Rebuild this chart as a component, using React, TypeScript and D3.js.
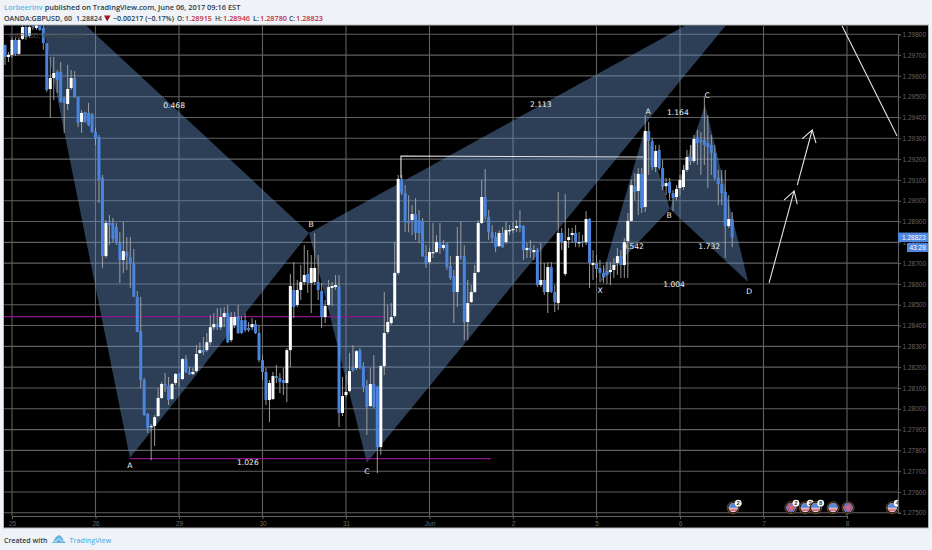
import React, { useEffect, useRef } from "react"
import * as d3 from "d3"

// candle values are fifth-decimal points above 1.20000, hourly bars
const opens = [
  9749,9691,9701,9773,9706,9778,9835,9792,9859,9830,
  9859,9830,9758,9537,9590,9619,9619,9494,9465,9542,
  9590,9499,9379,9427,9422,9417,9330,9307,9110,8734,
  8893,8893,8874,8797,8715,8753,8729,8696,8538,8374,
  8138,7975,7912,7917,7965,8052,8119,8110,8047,8124,
  8172,8143,8239,8177,8167,8181,8268,8282,8282,8320,
  8392,8407,8392,8441,8460,8330,8402,8446,8426,8426,
  8388,8392,8407,8364,8234,8177,8042,8047,8157,8148,
  8138,8124,8282,8571,8499,8571,8609,8648,8605,8609,
  8609,8566,8441,8499,8581,8585,8590,7980,8066,8085,
  8196,8196,8282,8205,8110,8013,8119,8105,7816,8205,
  8369,8412,8446,8653,9105,9037,8903,8907,8936,8907,
  8903,8734,8705,8749,8753,8801,8773,8792,8686,8638,
  8561,8734,8734,8417,8513,8561,8657,8893,9018,8922,
  8849,8825,8782,8845,8801,8854,8859,8869,8883,8878,
  8763,8773,8753,8763,8595,8619,8561,8681,8561,8508,
  8845,8648,8811,8835,8845,8797,8806,8801,8912,8691,
  8701,8677,8653,8662,8657,8667,8701,8734,8691,8806,
  8903,9070,9047,9129,8970,9335,9287,9162,9244,9157,
  9070,9090,9037,9018,9061,9066,9148,9210,9191,9306,
  9292,9292,9278,9268,9229,9110,9080,9042,8878,8912,
]
const highs = [
  9749,9715,9783,9783,9783,9850,9859,9869,9893,9893,
  9888,9869,9758,9691,9691,9628,9667,9499,9653,9628,
  9623,9499,9436,9427,9470,9422,9350,9316,9124,8907,
  8931,8917,8893,8850,8898,8825,8825,8768,8566,8538,
  8148,7980,7927,7970,8100,8129,8172,8153,8124,8172,
  8172,8244,8258,8201,8196,8306,8320,8345,8364,8450,
  8460,8484,8484,8489,8499,8465,8465,8499,8446,8460,
  8417,8436,8426,8402,8258,8196,8138,8177,8210,8172,
  8196,8292,8648,8705,8619,8691,8787,8763,8739,8845,
  8739,8605,8523,8619,8609,8643,8643,8153,8162,8268,
  8306,8282,8292,8224,8138,8196,8258,8110,8210,8561,
  8499,8508,8801,9124,9124,9075,9027,8979,9013,8955,
  8917,8787,8773,8893,8835,8893,8811,8801,8734,8667,
  8874,8898,8787,8619,8595,8691,8907,9100,9153,8955,
  8883,8849,8859,8874,8898,8883,8898,8907,8955,8883,
  8797,8811,8787,8773,8797,8701,8705,8705,8595,9042,
  8869,9032,8869,8869,8883,8850,8835,8950,8917,8763,
  8739,8715,8691,8705,8705,8725,8773,8763,8821,8941,
  9100,9133,9157,9157,9412,9379,9302,9268,9268,9196,
  9109,9109,9051,9075,9124,9172,9244,9268,9316,9340,
  9330,9499,9412,9316,9268,9148,9148,9148,9027,8946,
]
const lows = [
  9653,9667,9686,9696,9701,9773,9773,9783,9821,9821,
  9816,9725,9523,9398,9484,9518,9470,9326,9436,9532,
  9494,9354,9326,9374,9359,9326,9268,8989,8677,8725,
  8787,8801,8787,8605,8653,8667,8581,8538,8369,8100,
  7965,7883,7753,7821,7960,8047,8081,8018,8042,8114,
  8105,8138,8172,8162,8162,8177,8263,8258,8273,8306,
  8378,8378,8378,8392,8316,8320,8388,8359,8359,8369,
  8369,8378,8359,8224,8138,8018,7936,8042,8124,8076,
  8066,8032,8201,8436,8489,8523,8595,8557,8460,8595,
  8523,8388,8412,8494,8494,8571,7912,7965,8056,8081,
  8177,8186,8191,8081,7874,8009,8004,7691,7778,8162,
  8359,8402,8436,8643,9027,8849,8849,8835,8811,8797,
  8729,8677,8691,8725,8749,8744,8763,8667,8619,8412,
  8489,8715,8330,8330,8508,8557,8653,8888,8907,8811,
  8797,8753,8777,8773,8792,8835,8845,8849,8849,8715,
  8725,8725,8715,8585,8585,8547,8460,8557,8465,8475,
  8763,8638,8773,8797,8777,8777,8777,8787,8581,8619,
  8629,8609,8605,8600,8595,8629,8643,8629,8629,8629,
  8898,9003,8931,8941,8946,9124,9148,9138,9148,9051,
  9027,9003,8950,9003,9027,9051,9138,9172,9181,9172,
  9124,9172,9061,9124,9100,8979,8979,8725,8869,8777,
]
const closes = [
  9691,9701,9773,9706,9773,9835,9787,9835,9835,9869,
  9821,9758,9532,9590,9614,9580,9475,9470,9537,9590,
  9499,9374,9422,9379,9364,9330,9302,9100,8734,8893,
  8883,8816,8797,8715,8758,8729,8696,8538,8369,8138,
  7970,7907,7917,7960,8052,8119,8110,8042,8119,8167,
  8143,8239,8177,8167,8177,8263,8282,8273,8320,8392,
  8407,8392,8441,8460,8320,8441,8441,8364,8364,8378,
  8378,8407,8364,8234,8177,8042,8124,8157,8148,8129,
  8124,8282,8590,8489,8571,8609,8643,8605,8677,8677,
  8571,8441,8494,8585,8590,8595,7980,8061,8081,8181,
  8186,8277,8201,8105,8009,8119,8009,7816,8205,8364,
  8417,8441,8653,9105,9037,8898,8893,8936,8845,8845,
  8734,8701,8753,8753,8801,8773,8787,8681,8629,8561,
  8734,8729,8417,8508,8561,8653,8893,9018,8922,8849,
  8821,8777,8845,8777,8859,8859,8864,8878,8869,8763,
  8773,8763,8763,8595,8619,8561,8681,8561,8513,8845,
  8801,8806,8825,8845,8797,8801,8797,8912,8701,8701,
  8672,8653,8633,8643,8667,8691,8734,8691,8801,8903,
  9075,9042,9129,8965,9335,9287,9162,9239,9157,9066,
  9085,9037,9013,9056,9100,9148,9210,9191,9297,9277,
  9282,9268,9258,9229,9110,9080,9037,8878,8912,8823,
]

const priceTicks = [
  1.298,1.297,1.296,1.295,1.294,1.293,1.292,1.291,1.29,1.289,1.288,1.287,
  1.286,1.285,1.284,1.283,1.282,1.281,1.28,1.279,1.278,1.277,1.276,1.275,
]
const dayIndex = [2, 26, 50, 74, 98, 122, 146, 170, 194, 218, 242]
const dayLabels = ["25", "26", "29", "30", "31", "Jun", "2", "5", "6", "7", "8"]

// harmonic pattern triangles, [bar index, points above 1.2]
const triangles = [
  [[8, 10080], [35.9, 7763], [87.4, 8845]],
  [[87.4, 8845], [104, 7742], [216.7, 10037]],
  [[171, 8605], [184, 9350], [191.1, 8960]],
  [[191.1, 8960], [201.2, 9460], [213.6, 8609]],
]
const purpleLines = [
  [[-1, 8443], [109.2, 8443]],
  [[35.9, 7760], [139.7, 7760]],
]
const whitePaths = [
  [[113.8, 9109], [113.8, 9215], [183.4, 9210]],
  [[219.6, 8605], [226.8, 9047]],
  [[223.9, 9003], [226.8, 9047], [227.7, 8984]],
  [[227.7, 9075], [232, 9340]],
  [[229.1, 9297], [232, 9340], [233.1, 9277]],
  [[240.6, 9840], [256.4, 9311]],
]
const notes: [string, number, number][] = [
  ["0.468", 48.6, 9455],
  ["2.113", 154, 9460],
  ["1.164", 193.4, 9422],
  ["A", 184.8, 9427],
  ["C", 201.8, 9503],
  ["B", 88, 8883],
  ["B", 190.9, 8926],
  ["X", 171, 8566],
  ["D", 213.9, 8561],
  ["A", 35.9, 7724],
  ["C", 104, 7696],
  ["1.026", 69.8, 7739],
  ["0.542", 180.5, 8777],
  ["1.732", 202.4, 8777],
  ["1.004", 192.3, 8595],
]
// economic calendar markers on the time axis
const events: [number, string, string][] = [
  [209.3, "us", "2"],
  [225.9, "uk", "2"],
  [230, "us", "2"],
  [233, "us", "8"],
  [238, "us", ""],
  [242.3, "uk", ""],
  [255, "us", "4"],
]

const sans = "'Open Sans', sans-serif"
const axisFont = "'Liberation Sans', sans-serif"
const chartFont = "'DejaVu Sans', sans-serif"

export default function App() {
  const ref = useRef<SVGSVGElement>(null)

  useEffect(() => {
    document.body.style.margin = "0"
    const svg = d3.select(ref.current)
    svg.selectAll("*").remove()

    const x = d3.scaleLinear().domain([2, 242]).range([12, 847])
    const y = d3.scaleLinear().domain([1.275, 1.298]).range([512.8, 34.3])
    const yp = (p: number) => y(1.2 + p / 100000)

    svg.append("rect").attr("width", 932).attr("height", 550).attr("fill", "#eff3f7")
    svg.append("rect").attr("x", 3.5).attr("y", 25).attr("width", 925).attr("height", 503)
      .attr("fill", "#000").attr("stroke", "#b5b8bb")

    svg.append("clipPath").attr("id", "pane").append("rect")
      .attr("x", 4).attr("y", 25.5).attr("width", 894).attr("height", 490.5)
    const pane = svg.append("g").attr("clip-path", "url(#pane)")

    // grid
    pane.append("g").selectAll("line").data(priceTicks).join("line")
      .attr("x1", 4).attr("x2", 898).attr("y1", (d) => y(d)).attr("y2", (d) => y(d))
      .attr("stroke", "#616161").attr("stroke-width", 1.1)
    pane.append("g").selectAll("line").data(dayIndex).join("line")
      .attr("y1", 25).attr("y2", 516).attr("x1", (d) => x(d)).attr("x2", (d) => x(d))
      .attr("stroke", "#616161").attr("stroke-width", 1.1)

    // pattern fills
    const poly = d3.line<number[]>().x((d) => x(d[0])).y((d) => yp(d[1]))
    pane.append("g").selectAll("path").data(triangles).join("path")
      .attr("d", (d) => poly(d) + "Z")
      .attr("fill", "#6a95d0").attr("fill-opacity", 0.42)

    pane.append("g").selectAll("path").data(purpleLines).join("path")
      .attr("d", (d) => poly(d)).attr("fill", "none")
      .attr("stroke", "#8c168c").attr("stroke-width", 1.2)

    pane.append("g").selectAll("text").data(notes).join("text")
      .text((d) => d[0])
      .attr("x", (d) => x(d[1])).attr("y", (d) => yp(d[2]))
      .attr("text-anchor", "middle").attr("dominant-baseline", "middle")
      .attr("font-family", chartFont).attr("font-size", 7.6).attr("fill", "#f2f2f2")

    // candles
    const bars = d3.range(opens.length)
    const candles = pane.append("g")
    candles.selectAll("line").data(bars).join("line")
      .attr("x1", (i) => x(i)).attr("x2", (i) => x(i))
      .attr("y1", (i) => yp(highs[i])).attr("y2", (i) => yp(lows[i]))
      .attr("stroke", "#a9a9a9").attr("stroke-width", 0.9)
    candles.selectAll("rect").data(bars).join("rect")
      .attr("x", (i) => x(i) - 1.5).attr("width", 3)
      .attr("y", (i) => Math.min(yp(opens[i]), yp(closes[i])))
      .attr("height", (i) => Math.max(1.2, Math.abs(yp(opens[i]) - yp(closes[i]))))
      .attr("fill", (i) => (closes[i] >= opens[i] ? "#ffffff" : "#4a84dc"))

    pane.append("g").selectAll("path").data(whitePaths).join("path")
      .attr("d", (d) => poly(d)).attr("fill", "none")
      .attr("stroke", "#e4e4e4").attr("stroke-width", 1.1)

    // calendar markers
    const marks = pane.append("g").selectAll("g").data(events).join("g")
      .attr("transform", (d) => `translate(${x(d[0])},507.7)`)
    marks.append("circle").attr("r", 6).attr("fill", "#111").attr("stroke", "#8a5a22").attr("stroke-width", 0.8)
    marks.append("circle").attr("r", 4.6).attr("fill", "#e4e4ee")
    marks.filter((d) => d[1] === "us").append("path")
      .attr("d", d3.arc()({ innerRadius: 0, outerRadius: 4.6, startAngle: -Math.PI / 2, endAngle: Math.PI / 2 }) as string)
      .attr("fill", "#5a86d6")
    marks.filter((d) => d[1] === "us").append("path").attr("d", "M-4 1.5H4M-3.4 3H3.4")
      .attr("stroke", "#d84a5a").attr("stroke-width", 0.9)
    marks.filter((d) => d[1] === "uk").append("circle").attr("r", 4.6).attr("fill", "#4a6ec4")
    marks.filter((d) => d[1] === "uk").append("path").attr("d", "M-4.4 0H4.4M0 -4.4V4.4M-3 -3L3 3M-3 3L3 -3")
      .attr("stroke", "#e0607a").attr("stroke-width", 1.2)
    const badges = marks.filter((d) => d[2] !== "")
    badges.append("circle").attr("cx", 5).attr("cy", -4.5).attr("r", 3.4).attr("fill", "#fff")
    badges.append("text").text((d) => d[2]).attr("x", 5).attr("y", -2.4)
      .attr("text-anchor", "middle").attr("font-family", axisFont)
      .attr("font-size", 6).attr("font-weight", "bold").attr("fill", "#333")

    // axes
    const priceAxis = svg.append("g").attr("transform", "translate(898,0)")
      .call(d3.axisRight(y).tickValues(priceTicks).tickFormat(d3.format(".5f")).tickSize(3).tickPadding(1.5))
    const timeAxis = svg.append("g").attr("transform", "translate(0,516)")
      .call(d3.axisBottom(x).tickValues(dayIndex)
        .tickFormat((_, k) => dayLabels[k]).tickSize(3).tickPadding(2))
    for (const axis of [priceAxis, timeAxis]) {
      axis.attr("font-family", axisFont).attr("font-size", 6.5)
      axis.select(".domain").attr("stroke", "#616161").attr("stroke-width", 1.1)
      axis.selectAll("line").attr("stroke", "#616161")
      axis.selectAll("text").attr("fill", "#666")
    }

    // last price tags
    const lastY = y(1.2 + closes[closes.length - 1] / 100000)
    svg.append("rect").attr("x", 898).attr("y", lastY - 5).attr("width", 30).attr("height", 9.5).attr("fill", "#4f86e0")
    svg.append("text").text("1.28823").attr("x", 902).attr("y", lastY + 2)
      .attr("font-family", axisFont).attr("font-size", 6.5).attr("fill", "#fff")
    svg.append("rect").attr("x", 907).attr("y", lastY + 5.5).attr("width", 21).attr("height", 9).attr("fill", "#4f86e0")
    svg.append("text").text("43:28").attr("x", 909.5).attr("y", lastY + 12.5)
      .attr("font-family", axisFont).attr("font-size", 6.5).attr("fill", "#fff")

    svg.append("text").text("GBPUSD, 60  Lorbeerinv").attr("x", 9).attr("y", 38)
      .attr("font-family", axisFont).attr("font-size", 7).attr("fill", "#484848")

    // header
    const title = svg.append("text").attr("x", 4).attr("y", 9.5)
      .attr("font-family", sans).attr("font-size", 7.4).attr("font-weight", 600).attr("fill", "#2b3a4a")
    title.append("tspan").text("Lorbeerinv").attr("fill", "#63b3e6")
    title.append("tspan").text(" published on TradingView.com, June 06, 2017 09:16 EST")

    const quote: [string, number, string, number][] = [
      ["OANDA:GBPUSD, 60", 4, "#2b3a4a", 68],
      ["1.28824", 76, "#2b3a4a", 26],
      ["\u22120.00217 (\u22120.17%)", 113, "#2b3a4a", 61],
      ["O:", 177, "#2b3a4a", 7],
      ["1.28915", 185, "#c0303f", 27],
      ["H:", 215, "#2b3a4a", 7],
      ["1.28946", 223, "#c0303f", 27],
      ["L:", 253, "#2b3a4a", 6],
      ["1.28780", 260, "#c0303f", 27],
      ["C:", 289, "#2b3a4a", 6],
      ["1.28823", 296, "#c0303f", 27],
    ]
    svg.append("g").selectAll("text").data(quote).join("text")
      .text((d) => d[0]).attr("x", (d) => d[1]).attr("y", 20.5)
      .attr("textLength", (d) => d[3]).attr("lengthAdjust", "spacingAndGlyphs")
      .attr("fill", (d) => d[2]).attr("font-family", sans)
      .attr("font-size", 7.4).attr("font-weight", 600)
    svg.append("path").attr("d", "M104 15.5H110.5L107.2 21.5Z").attr("fill", "#a5101e")

    // footer
    svg.append("text").text("Created with").attr("x", 4).attr("y", 542.5)
      .attr("font-family", sans).attr("font-size", 7).attr("font-weight", 600).attr("fill", "#2b3a4a")
    svg.append("path").attr("d", "M52 543L56 537Q58.5 534 61 536L65.5 543Z").attr("fill", "#63b3e6")
    svg.append("path").attr("d", "M52 540L55.5 542L59 538.5L62 541.5L65 539")
      .attr("fill", "none").attr("stroke", "#eff3f7").attr("stroke-width", 0.9)
    svg.append("text").text("TradingView").attr("x", 69.5).attr("y", 542.5)
      .attr("font-family", sans).attr("font-size", 7).attr("font-weight", 600).attr("fill", "#63b3e6")
  }, [])

  return <svg ref={ref} width={932} height={550} style={{ display: "block" }} />
}
